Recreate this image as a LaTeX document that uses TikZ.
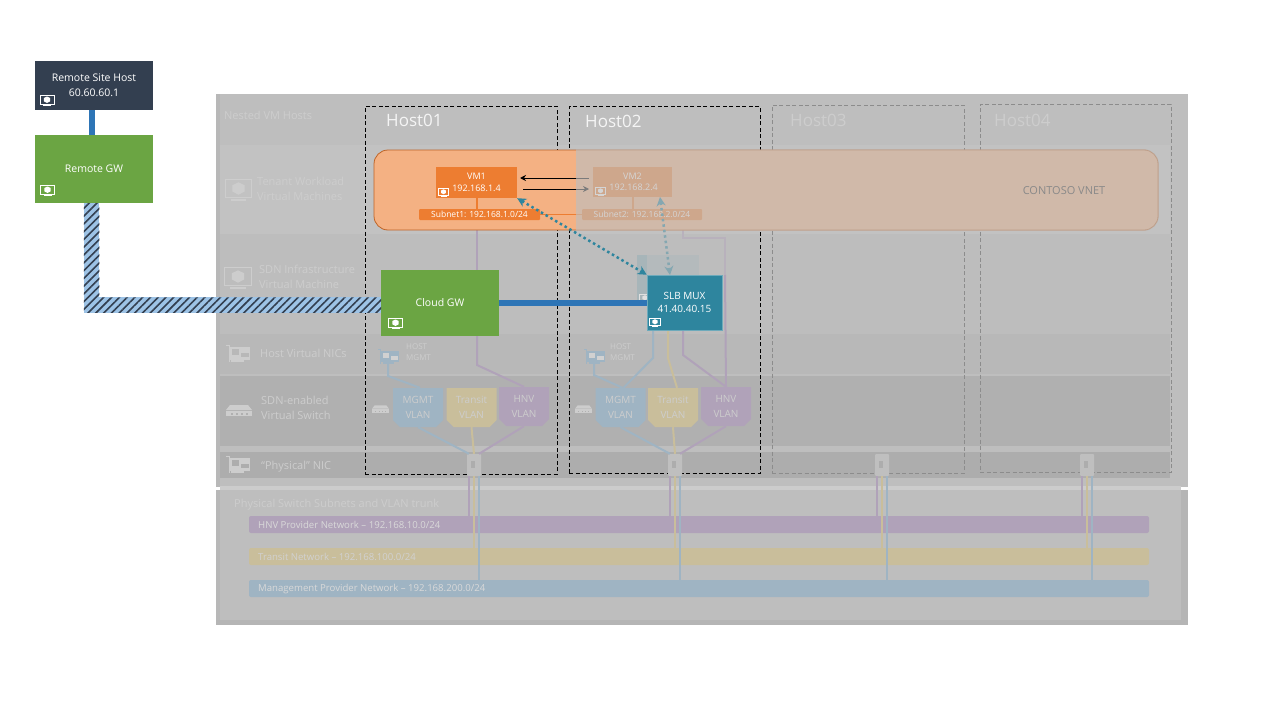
\documentclass[tikz,border=0pt]{standalone}
\usepackage{fontspec}
\setmainfont{Open Sans}
\usetikzlibrary{arrows.meta,patterns.meta}
\definecolor{panelgrey}{HTML}{BEBEBE}
\definecolor{fadedtext}{HTML}{CDCDCD}
\definecolor{navy}{HTML}{333F50}
\definecolor{gwgreen}{HTML}{6BA543}
\definecolor{linkblue}{HTML}{2E75B6}
\definecolor{tunnelblue}{HTML}{9DC3E6}
\definecolor{muxteal}{HTML}{2E859E}
\definecolor{vmorange}{HTML}{ED7D31}
\definecolor{vnetorange}{HTML}{F4B183}
\definecolor{mgmtblue}{HTML}{9FB4C3}
\definecolor{transityellow}{HTML}{C9BE9B}
\definecolor{hnvpurple}{HTML}{B0A2B9}
\tikzset{
	solidbox/.style={rectangle, inner sep=0pt, text=white, align=center, font=\fontsize{10.5}{15}\selectfont},
	vmbox/.style={solidbox, fill=vmorange, minimum width=81pt, minimum height=31pt, font=\fontsize{9}{11.5}\selectfont},
	subnetbox/.style={solidbox, fill=vmorange, rounded corners=1pt, minimum width=121pt, minimum height=11pt, font=\fontsize{8.5}{10}\selectfont},
	hostbox/.style={rectangle, draw=black, dash pattern=on 4pt off 2.5pt, line width=1pt, inner sep=0pt},
	fadedhost/.style={rectangle, draw=black!45, dash pattern=on 4pt off 2.5pt, line width=0.7pt, inner sep=0pt},
	hostlabel/.style={anchor=west, inner sep=0pt, text=#1, font=\fontsize{17}{19}\selectfont},
	rowlabel/.style={anchor=west, inner sep=0pt, text=fadedtext, align=left, font=\fontsize{11}{15}\selectfont},
	vlanbox/.style={rectangle, inner sep=0pt, minimum width=50pt, minimum height=39pt, text=fadedtext, align=center, font=\fontsize{10}{15}\selectfont,
		path picture={\fill[#1] (path picture bounding box.north west) -- (path picture bounding box.north east) -- ([yshift=7pt]path picture bounding box.south east) -- ([xshift=-7pt]path picture bounding box.south east) -- ([xshift=7pt]path picture bounding box.south west) -- ([yshift=7pt]path picture bounding box.south west) -- cycle;}},
	netbar/.style={rectangle, rounded corners=2pt, fill=#1, inner sep=0pt, minimum width=900pt, minimum height=17pt},
	netlabel/.style={anchor=west, inner sep=0pt, text=#1, font=\fontsize{9.6}{11}\selectfont},
	wire/.style={draw=#1, line width=2pt},
	chipbox/.style={rectangle, rounded corners=1pt, fill=black!25, inner sep=0pt, minimum width=14pt, minimum height=22pt},
	pics/vmicon/.style n args={2}{code={
		\fill[#2] (-7,-5) rectangle (7,4.5);
		\draw[#1, line width=1pt] (-7,-5) rectangle (7,4.5);
		\fill[#1] (0,-3.5) -- (3.2,-2) -- (3.2,1.3) -- (0,3) -- (-3.2,1.3) -- (-3.2,-2) -- cycle;
		\fill[#1] (-4,5.2) rectangle (4,6.4);
	}},
	pics/nicicon/.style n args={2}{code={
		\draw[#1, line width=1pt] (-12,-9) -- (-9,-9) -- (-9,8);
		\fill[#1] (-9,-7) rectangle (12,6);
		\fill[#2] (-6,-5) rectangle (1,1);
		\fill[#2] (3,-1) rectangle (11,3);
		\fill[#1] (-7,6) rectangle (6,8);
	}},
	pics/switchicon/.style n args={2}{code={
		\fill[#1] (-9,-4) -- (9,-4) -- (13,1) -- (-13,1) -- cycle;
		\fill[#1] (-13,2) rectangle (13,7);
		\foreach \dotx in {-8,-3,2,7} {
			\fill[#2] (\dotx,4) rectangle (\dotx+1.5,5.5);
		}
	}},
}
\begin{document}
\begin{tikzpicture}[x=1pt,y=-1pt]
	\useasboundingbox (0,0) rectangle (1280,720);
	\fill[panelgrey] (216,94) rectangle (1188,625);
	\fill[black!28] (216,94) rectangle (220,625);
	\fill[black!29] (216,620) rectangle (1188,625);
	\fill[black!29] (1181,490) rectangle (1188,625);
	\fill[black!24] (220,145) rectangle (1170,234);
	\fill[black!26] (220,234) rectangle (1170,334);
	\fill[black!28] (220,334) rectangle (1170,374);
	\fill[black!31] (220,376) rectangle (1170,446);
	\fill[black!32] (220,452) rectangle (1170,478);
	\fill[black!20] (220,486) rectangle (1181,490);
	\fill[white] (216,487) rectangle (220,490);
	\fill[white] (1181,487) rectangle (1188,490);

	\node (nestedlabel) at (224,115) [rowlabel] {Nested VM Hosts};
	\node (tenantlabel) at (257,189) [rowlabel] {Tenant Workload\\Virtual Machines};
	\node (infralabel) at (259,277) [rowlabel] {SDN Infrastructure\\Virtual Machine};
	\node (niclabel) at (260,353) [rowlabel] {Host Virtual NICs};
	\node (switchlabel) at (261,408) [rowlabel] {SDN-enabled\\Virtual Switch};
	\node (physlabel) at (261,466.5) [rowlabel] {“Physical” NIC};
	\node (trunklabel) at (234,504.5) [rowlabel] {Physical Switch Subnets and VLAN trunk};
	\pic at (238.5,189) [scale=1.9] {vmicon={fadedtext}{black!24}};
	\pic at (238,277) [scale=1.9] {vmicon={fadedtext}{black!26}};
	\pic at (238,354) {nicicon={fadedtext}{black!28}};
	\pic at (239,409) {switchicon={fadedtext}{black!31}};
	\pic at (238,465) {nicicon={fadedtext}{black!32}};

	\node (hostc) at (868,289) [fadedhost, minimum width=192pt, minimum height=368pt] {};
	\node (hostd) at (1075.5,288) [fadedhost, minimum width=191pt, minimum height=368pt] {};
	\node (hosta) at (461,290) [hostbox, minimum width=192pt, minimum height=368pt] {};
	\node (hostb) at (664.5,290) [hostbox, minimum width=191pt, minimum height=367pt] {};
	\node (hostalabel) at (386,120) [hostlabel=black!4] {Host01};
	\node (hostblabel) at (585,121) [hostlabel=black!4] {Host02};
	\node (hostclabel) at (790,120) [hostlabel=fadedtext] {Host03};
	\node (hostdlabel) at (994,120) [hostlabel=fadedtext] {Host04};

	\node (hnvnet) at (699,524.5) [netbar=hnvpurple] {};
	\node (transitnet) at (699,556.5) [netbar=transityellow] {};
	\node (mgmtnet) at (699,588.5) [netbar=mgmtblue] {};
	\node (hnvlabel) at (258,524.5) [netlabel=black!15] {HNV Provider Network – 192.168.10.0/24};
	\node (transitlabel) at (258,556.5) [netlabel=black!18] {Transit Network – 192.168.100.0/24};
	\node (mgmtlabel) at (258,588.5) [netlabel=black!15] {Management Provider Network – 192.168.200.0/24};

	\node (mgmta) at (418,407.5) [vlanbox=mgmtblue] {MGMT\\VLAN};
	\node (transita) at (471.5,407.5) [vlanbox=transityellow] {Transit\\VLAN};
	\node (hnva) at (524,406.5) [vlanbox=hnvpurple] {HNV\\VLAN};
	\node (mgmtb) at (620.5,407.5) [vlanbox=mgmtblue] {MGMT\\VLAN};
	\node (transitb) at (673,407.5) [vlanbox=transityellow] {Transit\\VLAN};
	\node (hnvb) at (726,406.5) [vlanbox=hnvpurple] {HNV\\VLAN};
	\foreach \chipname/\chipx in {chipa/474,chipb/675,chipc/882,chipd/1087} {
		\node (\chipname) at (\chipx,465) [chipbox] {};
		\fill[black!32] (\chipx-3,461) rectangle (\chipx+1,468);
		\draw[wire=hnvpurple] ([xshift=-5pt]\chipname.south) -- ([xshift=-5pt]\chipname.south |- hnvnet.north);
		\draw[wire=transityellow] (\chipname.south) -- (\chipname.south |- transitnet.north);
		\draw[wire=mgmtblue] ([xshift=5pt]\chipname.south) -- ([xshift=5pt]\chipname.south |- mgmtnet.north);
	}
	\draw[wire=mgmtblue] (mgmta.south) -- ([xshift=-5pt]chipa.north);
	\draw[wire=transityellow] (transita.south) -- (chipa.north);
	\draw[wire=hnvpurple] (hnva.south) -- ([xshift=5pt]chipa.north);
	\draw[wire=mgmtblue] (mgmtb.south) -- ([xshift=-5pt]chipb.north);
	\draw[wire=transityellow] (transitb.south) -- (chipb.north);
	\draw[wire=hnvpurple] (hnvb.south) -- ([xshift=5pt]chipb.north);

	\node (niciconb) at (388,357) [inner sep=0pt, minimum width=20pt, minimum height=13pt] {};
	\node (nicicond) at (594,357) [inner sep=0pt, minimum width=20pt, minimum height=13pt] {};
	\pic at (388.5,357) [scale=0.85] {nicicon={mgmtblue}{black!18}};
	\pic at (594.5,357) [scale=0.85] {nicicon={mgmtblue}{black!18}};
	\node (hostnica) at (406,352) [netlabel=fadedtext, align=left, font=\fontsize{8}{11.5}\selectfont] {HOST\\MGMT};
	\node (hostnicb) at (610,352) [netlabel=fadedtext, align=left, font=\fontsize{8}{11.5}\selectfont] {HOST\\MGMT};
	\pic at (380.5,408) [scale=0.65] {switchicon={fadedtext}{black!31}};
	\pic at (583.5,408) [scale=0.65] {switchicon={fadedtext}{black!31}};
	\coordinate (niccornera) at (388,376);
	\coordinate (niccornerb) at (594,375);
	\coordinate (cloudpurple) at (477,336);
	\coordinate (bendpurple) at (477,365);
	\coordinate (muxblue) at (653,330);
	\coordinate (bendblue) at (653,358);
	\coordinate (muxyellow) at (668,330);
	\coordinate (bendyellow) at (668,358);
	\coordinate (muxpurple) at (683,330);
	\coordinate (bendmuxpurple) at (683,355);
	\coordinate (vnetpurple) at (477,230);
	\coordinate (cloudtop) at (477,270);
	\coordinate (vnetright) at (683,230);
	\coordinate (riserleft) at (683,238);
	\coordinate (riserright) at (725,238);
	\coordinate (riserlow) at (725,275);
	\draw[wire=mgmtblue] (niciconb.south) -- (niccornera) -- ([xshift=2pt]mgmta.north);
	\draw[wire=mgmtblue] (nicicond.south) -- (niccornerb) -- ([xshift=2pt]mgmtb.north);
	\draw[wire=hnvpurple] (cloudpurple) -- (bendpurple) -- (hnva.north);
	\draw[wire=hnvpurple] (vnetpurple) -- (cloudtop);
	\draw[wire=mgmtblue] (muxblue) -- (bendblue) -- ([xshift=3pt]mgmtb.north);
	\draw[wire=transityellow] (muxyellow) -- (bendyellow) -- ([xshift=4pt]transitb.north);
	\draw[wire=hnvpurple] (muxpurple) -- (bendmuxpurple) -- (hnvb.north);
	\draw[wire=hnvpurple!45!panelgrey] (vnetright) -- (riserleft) -- (riserright) -- (riserlow);
	\draw[wire=hnvpurple] (riserlow) -- (hnvb.north);

	\node (vnet) at (766,190) [rectangle, rounded corners=14pt, draw=vmorange!80!black, line width=0.8pt, fill=vnetorange, minimum width=784pt, minimum height=80pt] {};
	\node (vnetlabel) at (1064,190.5) [inner sep=0pt, text=black!85, font=\fontsize{11}{13}\selectfont] {CONTOSO VNET};
	\node (vmone) at (476.5,182.5) [vmbox] {VM1\\192.168.1.4};
	\node (vmtwo) at (632.5,182) [vmbox, minimum width=79pt, minimum height=30pt] {VM2\\\ 192.168.2.4};
	\node (subnetone) at (479.5,214.5) [subnetbox] {Subnet1: 192.168.1.0/24};
	\node (subnettwo) at (642,214.5) [subnetbox, minimum width=120pt] {Subnet2: 192.168.2.0/24};
	\pic at (443.5,192) [scale=0.75] {vmicon={white}{vmorange}};
	\pic at (600.5,191) [scale=0.75] {vmicon={white}{vmorange}};
	\draw[draw=vmorange, line width=2pt] (vmone.south) -- (vmone.south |- subnetone.north);
	\draw[draw=vmorange, line width=2pt] (vmtwo.south) -- (vmtwo.south |- subnettwo.north);
	\draw[draw=vmorange, line width=1.5pt] (subnetone.east) -- (subnettwo.west);
	\coordinate (trafficinstart) at (589,178);
	\coordinate (trafficinend) at (520,178);
	\coordinate (trafficoutstart) at (523,189);
	\coordinate (trafficoutend) at (589,189);
	\draw[-{Stealth[length=6pt,width=6pt]}, line width=0.9pt] (trafficinstart) -- (trafficinend);
	\draw[-{Stealth[length=6pt,width=6pt]}, line width=0.9pt] (trafficoutstart) -- (trafficoutend);
	\fill[panelgrey, fill opacity=0.65, rounded corners=14pt] (576,149.4) -- (1158.6,149.4) -- (1158.6,230.6) -- (576,230.6);

	\node (muxshadow) at (642,279) [rectangle, fill=muxteal!16!panelgrey, inner sep=0pt, minimum width=10pt, minimum height=48pt] {};
	\node (muxshadowtop) at (673,265) [rectangle, fill=muxteal!7!panelgrey, inner sep=0pt, minimum width=52pt, minimum height=20pt] {};
	\pic at (645,298) [scale=0.8] {vmicon={black!12}{muxteal!16!panelgrey}};
	\node (slbmux) at (684.5,302.5) [solidbox, fill=muxteal, draw=muxteal!70!white, line width=0.5pt, minimum width=75pt, minimum height=55pt, font=\fontsize{10}{13.5}\selectfont] {SLB MUX\\41.40.40.15};
	\pic at (655,322) [scale=0.8] {vmicon={white}{muxteal}};
	\node (cloudgw) at (440,303) [solidbox, fill=gwgreen, minimum width=118pt, minimum height=66pt] {Cloud GW};
	\pic at (395.5,323) {vmicon={white}{gwgreen}};
	\draw[draw=linkblue, line width=6pt] (cloudgw.east) -- (slbmux.west |- cloudgw.east);
	\draw[{Stealth[length=9pt,width=9pt]}-{Stealth[length=9pt,width=9pt]}, draw=muxteal, line width=2.5pt, dash pattern=on 2.5pt off 3pt] (vmone.south east) -- (slbmux.north west);
	\coordinate (vmtwodot) at (660,197);
	\coordinate (muxdot) at (670,275);
	\draw[{Stealth[length=9pt,width=9pt]}-{Stealth[length=9pt,width=9pt]}, draw=muxteal!40!panelgrey, line width=2.5pt, dash pattern=on 2.5pt off 3pt] (vmtwodot) -- (muxdot);

	\node (remotehost) at (94,85.5) [solidbox, fill=navy, minimum width=118pt, minimum height=49pt] {Remote Site Host\\60.60.60.1};
	\node (remotegw) at (94,169) [solidbox, fill=gwgreen, minimum width=118pt, minimum height=68pt] {Remote GW};
	\pic at (47,100) {vmicon={white}{navy}};
	\pic at (47.5,190) {vmicon={white}{gwgreen}};
	\coordinate (hostlinkstart) at (92,110);
	\coordinate (hostlinkend) at (92,135);
	\draw[draw=linkblue, line width=6pt] (hostlinkstart) -- (hostlinkend);
	\coordinate (tunnelstart) at (91.5,203);
	\coordinate (tunnelend) at (381,305);
	\draw[draw=tunnelblue, line width=15.5pt] (tunnelstart) |- (tunnelend);
	\fill[pattern={Lines[angle=45,distance=5.5pt,line width=1.6pt]}, pattern color=navy] (83.75,203) -- (99.25,203) -- (99.25,297.25) -- (381,297.25) -- (381,312.75) -- (83.75,312.75) -- cycle;
\end{tikzpicture}
\end{document}
